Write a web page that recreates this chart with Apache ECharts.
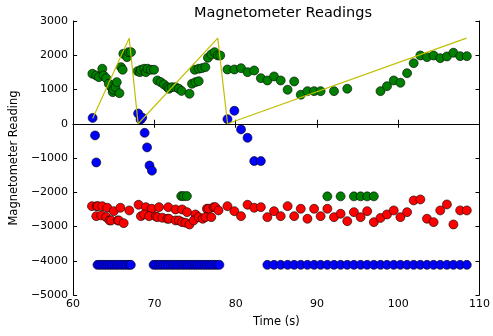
<!DOCTYPE html>
<html>
<head>
<meta charset="utf-8">
<script src="https://cdn.jsdelivr.net/npm/echarts@6/dist/echarts.min.js"></script>
<style>
html, body { margin: 0; padding: 0; background: #fff; }
#magChart { width: 493px; height: 336px; }
</style>
</head>
<body>
<div id="magChart"></div>
<script>
// tick labels
var xTicks = [60, 70, 80, 90, 100, 110];
var yTicks = [-5000, -4000, -3000, -2000, -1000, 0, 1000, 2000, 3000];

// dense part of the run (t < 79 s), [time, value]
var blueDense = [
  [62.4, 170], [62.7, -340], [62.85, -1130],
  [68.0, 300], [68.3, 120], [68.5, 180], [68.8, -265], [69.1, -690], [69.4, -1220], [69.7, -1370],
  [63.0, -4120], [63.3, -4120], [63.6, -4120], [63.9, -4120], [64.2, -4120], [64.5, -4120],
  [64.8, -4120], [65.1, -4120], [65.4, -4120], [65.7, -4120], [66.0, -4120], [66.3, -4120],
  [66.6, -4120], [66.9, -4120], [67.1, -4120],
  [69.9, -4120], [70.2, -4120], [70.5, -4120], [70.8, -4120], [71.1, -4120], [71.4, -4120],
  [71.7, -4120], [72.0, -4120], [72.3, -4120], [72.6, -4120], [72.9, -4120], [73.2, -4120],
  [73.5, -4120], [73.8, -4120], [74.1, -4120], [74.4, -4120], [74.7, -4120], [75.0, -4120],
  [75.3, -4120], [75.6, -4120], [75.9, -4120], [76.2, -4120], [76.5, -4120], [76.8, -4120],
  [77.1, -4120], [77.4, -4120], [77.7, -4120], [78.0, -4120]
];
var greenDense = [
  [62.37, 1460], [62.85, 1410], [63.17, 1361], [63.59, 1606], [63.74, 1410], [64.07, 1331],
  [64.39, 1168], [64.68, 1069], [64.88, 923], [64.96, 993], [65.21, 1069], [65.37, 1215],
  [65.70, 893], [65.90, 1653], [66.10, 1577], [66.18, 2044], [66.63, 1945], [66.83, 2091],
  [67.12, 2091], [67.93, 1536], [68.22, 1507], [68.34, 1577], [68.74, 1606], [68.95, 1507],
  [69.15, 1606], [69.56, 1577], [69.96, 1577], [70.37, 1264], [70.78, 1215], [71.18, 1147],
  [71.59, 1069], [71.79, 1022], [72.12, 1069], [72.61, 1069], [73.01, 1022], [73.34, 958],
  [74.32, 876], [74.63, 1168], [75.05, 1215], [75.45, 1244], [74.96, 1577], [75.45, 1606],
  [75.85, 1623], [76.27, 1653], [76.59, 1927], [77.0, 2023], [77.40, 2091], [77.80, 1994],
  [78.10, 1994],
  [73.3, -2113], [73.6, -2113], [74.0, -2113]
];
var redDense = [
  [62.32, -2406], [62.89, -2406], [63.05, -2406], [63.59, -2406], [64.20, -2453], [65.0, -2552],
  [65.82, -2453], [66.91, -2531], [68.05, -2365], [68.95, -2435], [69.68, -2482], [70.57, -2435],
  [71.71, -2435], [72.61, -2502], [73.41, -2502], [74.02, -2581], [75.05, -2648], [76.46, -2482],
  [76.67, -2482], [77.28, -2435], [77.49, -2435], [77.89, -2531],
  [62.85, -2698], [63.46, -2677], [64.07, -2727], [64.48, -2823], [64.68, -2823], [65.49, -2823],
  [65.61, -2823], [66.22, -2902], [68.34, -2698], [68.74, -2648], [69.35, -2698], [70.17, -2706],
  [70.37, -2727], [70.98, -2744], [71.59, -2774], [71.79, -2774], [72.61, -2823], [73.01, -2823],
  [73.41, -2873], [73.83, -2890], [74.32, -2940], [74.84, -2823], [75.45, -2727], [75.94, -2774],
  [76.27, -2727], [77.0, -2727]
];

// sparse part of the run (t >= 79 s)
var timeSparse = [78.99, 79.84, 80.66, 81.46, 82.28, 83.10, 83.90, 84.72, 85.54, 86.39, 87.20, 88.01,
  88.83, 89.65, 90.45, 91.28, 92.10, 92.91, 93.73, 94.55, 95.37, 96.18, 97.0, 97.82, 98.62, 99.45,
  100.27, 101.09, 101.90, 102.72, 103.54, 104.35, 105.17, 105.99, 106.79, 107.62, 108.44];
var blueSparse = [135, 380, -165, -410, -1090, -1090, -4120, -4120, -4120, -4120, -4120, -4120,
  -4120, -4120, -4120, -4120, -4120, -4120, -4120, -4120, -4120, -4120, -4120, -4120, -4120, -4120,
  -4120, -4120, -4120, -4120, -4120, -4120, -4120, -4120, -4120, -4120, -4120];
var greenSparse = [1585, 1585, 1623, 1507, 1556, 1331, 1264, 1381, 1264, 993, 1235, 847, 952, 952, 952,
  -2120, 952, -2120, 1022, -2120, -2120, -2120, -2120, 952, 1098, 1264, 1197, 1477, 1769, 1994, 1945,
  1994, 1915, 1965, 2073, 1974, 1974];
var redSparse = [-2406, -2552, -2698, -2365, -2453, -2435, -2727, -2552, -2698, -2406, -2698, -2482,
  -2774, -2482, -2698, -2482, -2727, -2628, -2844, -2581, -2727, -2552, -2873, -2750, -2648, -2531,
  -2727, -2581, -2239, -2210, -2774, -2873, -2531, -2356, -2940, -2531, -2531];

// yellow sawtooth
var headingLine = [[62.4, 150], [66.9, 2500], [68.0, 0], [77.8, 2500], [79.0, 0], [108.4, 2500]];

function joinSparse(dense, values) {
  var out = dense.slice();
  for (var i = 0; i < timeSparse.length; i++) {
    out.push([timeSparse[i], values[i]]);
  }
  return out;
}

var FONT = 'DejaVu Sans';
var minusFmt = function (v) { return String(v).replace('-', '\u2212'); };

function scatterSeries(name, color, data) {
  return {
    name: name,
    type: 'scatter',
    symbolSize: 9,
    data: data,
    itemStyle: { color: color, borderColor: '#000', borderWidth: 0.6, opacity: 1 },
    z: 2
  };
}

var chart = echarts.init(document.getElementById('magChart'));
var tickCommon = { show: true, inside: true, length: 4, lineStyle: { color: '#000' } };

var option = {
  animation: false,
  title: {
    text: 'Magnetometer Readings',
    left: 278,
    textAlign: 'center',
    top: 1,
    textStyle: { fontFamily: FONT, fontSize: 14.5, fontWeight: 'normal', color: '#000' }
  },
  grid: { left: 73, right: 10, top: 21, bottom: 41 },
  xAxis: [{
    type: 'value', min: 60, max: 110, interval: 10,
    name: 'Time (s)', nameLocation: 'middle', nameGap: 21,
    nameTextStyle: { fontFamily: FONT, fontSize: 11.5, color: '#000' },
    axisLine: { lineStyle: { color: '#000', width: 1 } },
    axisTick: tickCommon,
    axisLabel: { fontFamily: FONT, fontSize: 11, color: '#000', margin: 4 },
    splitLine: { show: false }
  }, {
    type: 'value', position: 'top', min: 60, max: 110, interval: 10,
    axisLine: { lineStyle: { color: '#000', width: 1 } },
    axisTick: tickCommon, axisLabel: { show: false }, splitLine: { show: false }
  }],
  yAxis: [{
    type: 'value', min: -5000, max: 3000, interval: 1000,
    name: 'Magnetometer Reading', nameLocation: 'middle', nameGap: 53, nameRotate: 90,
    nameTextStyle: { fontFamily: FONT, fontSize: 11.5, color: '#000' },
    axisLine: { show: true, lineStyle: { color: '#000', width: 1 } },
    axisTick: tickCommon,
    axisLabel: { fontFamily: FONT, fontSize: 11, color: '#000', margin: 5, formatter: minusFmt },
    splitLine: { show: false }
  }, {
    type: 'value', position: 'right', min: -5000, max: 3000, interval: 1000,
    axisLine: { show: true, lineStyle: { color: '#000', width: 1 } },
    axisTick: tickCommon, axisLabel: { show: false }, splitLine: { show: false }
  }],
  series: [
    scatterSeries('blue', '#0000ff', joinSparse(blueDense, blueSparse)),
    scatterSeries('green', '#008000', joinSparse(greenDense, greenSparse)),
    scatterSeries('red', '#ff0000', joinSparse(redDense, redSparse)),
    {
      name: 'heading',
      type: 'line',
      data: headingLine,
      symbol: 'none',
      lineStyle: { color: '#bfbf00', width: 1.2 },
      z: 3
    }
  ]
};
chart.setOption(option);
</script>
</body>
</html>
